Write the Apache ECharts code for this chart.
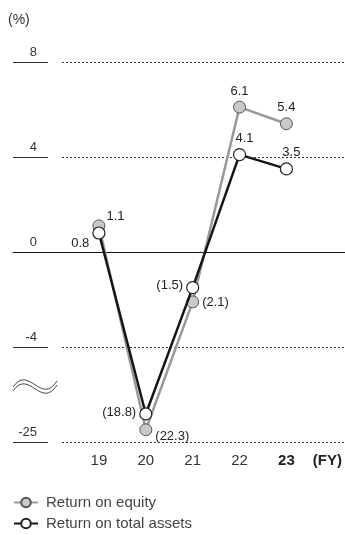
<!DOCTYPE html>
<html>
<head>
<meta charset="utf-8">
<script src="https://cdn.jsdelivr.net/npm/echarts@6/dist/echarts.min.js"></script>
<style>
html, body { margin: 0; padding: 0; background: #fff; }
#chart { width: 345px; height: 535px; }
</style>
</head>
<body>
<div id="chart"></div>
<script>
// data
const years = ['19', '20', '21', '22', '23']
const roe = [1.1, -22.3, -2.1, 6.1, 5.4]
const roa = [0.8, -18.8, -1.5, 4.1, 3.5]
const seriesNames = ['Return on equity', 'Return on total assets']

// broken axis: the -4 .. -25 range is squeezed into 4 display units
const breakTop = -4
const breakBottom = -25
const squeeze = 4 / (breakTop - breakBottom)

function toDisplay(v) {
	return v >= breakTop ? v : breakTop + (v - breakTop) * squeeze
}
function fromDisplay(d) {
	return d >= breakTop ? d : breakTop + (d - breakTop) / squeeze
}
function fmt(v) {
	return v < 0 ? '(' + Math.abs(v).toFixed(1) + ')' : v.toFixed(1)
}

const font = 'Liberation Sans, Arial, sans-serif'
const gridTop = 62
const gridBottom = 93

// label placement per point
const roeLabel = [
	{ position: 'right', offset: [-2, -9] },
	{ position: 'right', offset: [0, 7] },
	{ position: 'right', offset: [0, 1] },
	{ position: 'top', offset: [0, 0] },
	{ position: 'top', offset: [0, 0] }
]
const roaLabel = [
	{ position: 'left', offset: [0, 10] },
	{ position: 'left', offset: [0, -2] },
	{ position: 'left', offset: [0, -2] },
	{ position: 'top', offset: [5, 0] },
	{ position: 'top', offset: [5, 0] }
]

function baseY(gridIndex) {
	return {
		type: 'value',
		gridIndex: gridIndex,
		min: -8,
		max: 8,
		interval: 4,
		axisLabel: { show: false },
		axisLine: { show: false },
		axisTick: { show: false },
		splitLine: { show: false }
	}
}

const chart = echarts.init(document.getElementById('chart'))

const yDashed = baseY(0)
yDashed.splitLine = {
	show: true,
	lineStyle: {
		color: ['#333', '#333', 'rgba(0,0,0,0)', '#333', '#333'],
		type: [2, 2],
		width: 1
	}
}

const yTicks = baseY(1)
yTicks.position = 'right'
yTicks.axisLabel = {
	show: true,
	inside: true,
	margin: 11,
	verticalAlign: 'bottom',
	padding: [0, 0, 3, 0],
	fontFamily: font,
	fontSize: 13,
	color: '#333',
	formatter: v => String(Math.round(fromDisplay(v)))
}
yTicks.splitLine = { show: true, lineStyle: { color: '#333', width: 1 } }

// wave mark for the axis break
function wave(dy) {
	return {
		type: 'bezierCurve',
		shape: { x1: 13, y1: 389 + dy, cpx1: 29, cpy1: 366 + dy, cpx2: 41, cpy2: 408 + dy, x2: 57, y2: 383 + dy },
		style: { fill: 'none', stroke: '#444', lineWidth: 1 }
	}
}

function legendRow(name, top) {
	return {
		orient: 'vertical',
		left: 8,
		top: top,
		itemWidth: 24,
		itemHeight: 12,
		data: [name],
		textStyle: { fontFamily: font, fontSize: 15, color: '#444', padding: [0, 0, 0, 3] }
	}
}

const option = {
	animation: false,
	textStyle: { fontFamily: font },
	title: {
		text: '(%)',
		left: 3,
		top: 8,
		textStyle: { fontFamily: font, fontSize: 14, fontWeight: 'normal', color: '#333' }
	},
	legend: [legendRow(seriesNames[0], 490), legendRow(seriesNames[1], 511)],
	grid: [
		{ left: 62, right: 0, top: gridTop, bottom: gridBottom },
		{ left: 13, width: 35, top: gridTop, bottom: gridBottom },
		{ left: 13, right: 0, top: gridTop, bottom: gridBottom },
		{ left: 75.5, right: 33.5, top: gridTop, bottom: gridBottom }
	],
	xAxis: [
		{ type: 'category', gridIndex: 0, data: years, show: false },
		{ type: 'category', gridIndex: 1, data: years, show: false },
		{
			type: 'category',
			gridIndex: 2,
			data: years,
			axisLine: { show: true, onZero: true, lineStyle: { color: '#111', width: 1 } },
			axisTick: { show: false },
			axisLabel: { show: false }
		},
		{
			type: 'category',
			gridIndex: 3,
			data: years,
			axisLine: { show: false, onZero: false },
			axisTick: { show: false },
			axisLabel: {
				interval: 0,
				margin: 11,
				fontFamily: font,
				fontSize: 15,
				color: '#333',
				formatter: (v, i) => (i === years.length - 1 ? '{b|' + v + '}' : v),
				rich: { b: { fontFamily: font, fontSize: 15, fontWeight: 'bold', color: '#222' } }
			},
			name: '(FY)',
			nameLocation: 'end',
			nameGap: 3,
			nameTextStyle: {
				fontFamily: font,
				fontSize: 15,
				fontWeight: 'bold',
				color: '#222',
				verticalAlign: 'top',
				padding: [11, 0, 0, 0]
			}
		}
	],
	yAxis: [yDashed, yTicks, baseY(2), baseY(3)],
	graphic: [wave(-2), wave(2)],
	series: [
		{
			name: seriesNames[0],
			type: 'line',
			xAxisIndex: 3,
			yAxisIndex: 3,
			z: 3,
			symbol: 'circle',
			symbolSize: 12,
			lineStyle: { color: '#999', width: 2.5 },
			itemStyle: { color: '#c9c9c9', borderColor: '#555', borderWidth: 1 },
			label: {
				show: true,
				fontFamily: font,
				fontSize: 13,
				color: '#222',
				distance: 3,
				formatter: p => fmt(roe[p.dataIndex])
			},
			data: roe.map((v, i) => ({ value: toDisplay(v), label: roeLabel[i] }))
		},
		{
			name: seriesNames[1],
			type: 'line',
			xAxisIndex: 3,
			yAxisIndex: 3,
			z: 4,
			symbol: 'circle',
			symbolSize: 12,
			lineStyle: { color: '#151515', width: 2.5 },
			itemStyle: { color: '#fff', borderColor: '#222', borderWidth: 1.2 },
			label: {
				show: true,
				fontFamily: font,
				fontSize: 13,
				color: '#222',
				distance: 3,
				formatter: p => fmt(roa[p.dataIndex])
			},
			data: roa.map((v, i) => ({ value: toDisplay(v), label: roaLabel[i] }))
		}
	]
}

chart.setOption(option)
</script>
</body>
</html>
